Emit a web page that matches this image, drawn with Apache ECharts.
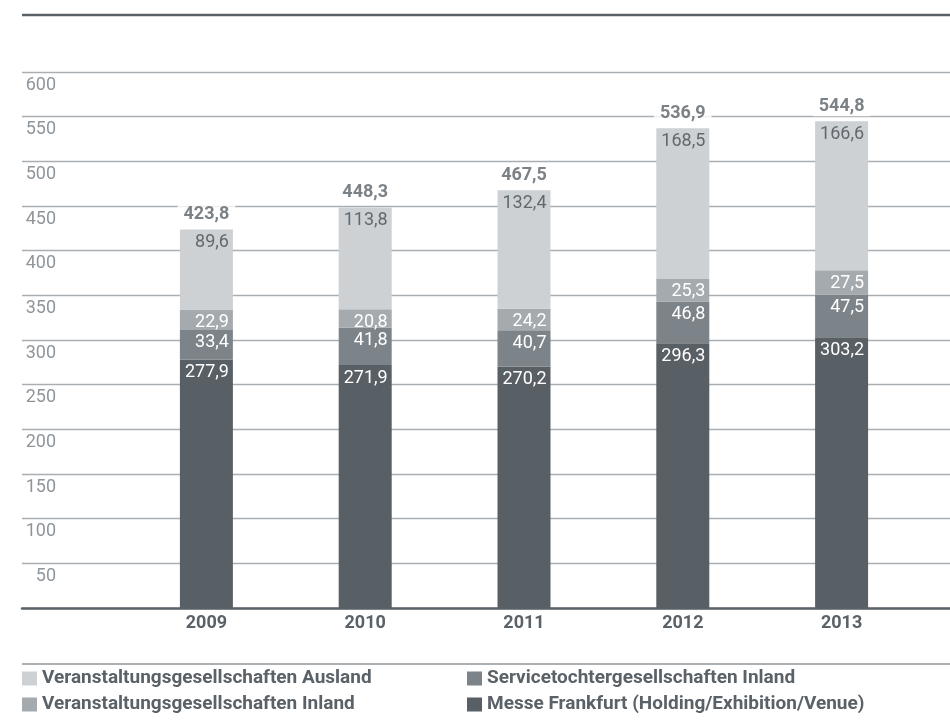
<!DOCTYPE html>
<html>
<head>
<meta charset="utf-8">
<style>
html,body{margin:0;padding:0;background:#fff;}
#chart{width:950px;height:723px;}
</style>
<script src="https://cdn.jsdelivr.net/npm/echarts@6/dist/echarts.min.js"></script>
</head>
<body>
<div id="chart"></div>
<script>
const years = ['2009', '2010', '2011', '2012', '2013'];
const messeFrankfurt = [277.9, 271.9, 270.2, 296.3, 303.2];
const serviceInland = [33.4, 41.8, 40.7, 46.8, 47.5];
const veranstInland = [22.9, 20.8, 24.2, 25.3, 27.5];
const veranstAusland = [89.6, 113.8, 132.4, 168.5, 166.6];
const totals = [423.8, 448.3, 467.5, 536.9, 544.8];
const yTicks = { min: 0, max: 600, interval: 50 };

const NAME_AUS = 'Veranstaltungsgesellschaften Ausland';
const NAME_SVC = 'Servicetochtergesellschaften Inland';
const NAME_INL = 'Veranstaltungsgesellschaften Inland';
const NAME_MF = 'Messe Frankfurt (Holding/Exhibition/Venue)';

const FONT = 'Roboto';
const DARK = '#5a6167';
const fmt = v => String(v).replace('.', ',');

function barSeries(name, data, color, labelColor) {
  return {
    name: name, type: 'bar', stack: 'total', data: data,
    xAxisIndex: 1, yAxisIndex: 1, barWidth: 53,
    itemStyle: { color: color },
    label: {
      show: true, position: 'insideTopRight', distance: 4,
      color: labelColor, fontFamily: FONT, fontSize: 18,
      formatter: p => fmt(p.value)
    }
  };
}

function legendItem(name, left, top) {
  return {
    left: left, top: top, itemWidth: 15, itemHeight: 14,
    icon: 'rect', selectedMode: false, padding: 0,
    textStyle: { color: DARK, fontFamily: FONT, fontWeight: 'bold', fontSize: 19, lineHeight: 14 },
    data: [name]
  };
}

const chart = echarts.init(document.getElementById('chart'), null, { renderer: 'canvas' });
chart.setOption({
  animation: false,
  backgroundColor: '#fff',
  grid: [
    { left: 22, right: 0, top: 72, bottom: 115 },
    { left: 127, right: 29, top: 72, bottom: 115 }
  ],
  xAxis: [
    { type: 'value', gridIndex: 0, min: 0, max: 1, show: true,
      axisLine: { show: true, onZero: false, lineStyle: { color: DARK, width: 2.5 } },
      axisTick: { show: false }, axisLabel: { show: false }, splitLine: { show: false } },
    { type: 'category', gridIndex: 1, data: years,
      axisLine: { show: false }, axisTick: { show: false },
      axisLabel: { color: DARK, fontFamily: FONT, fontWeight: 'bold', fontSize: 18, margin: 6 } }
  ],
  yAxis: [
    { type: 'value', gridIndex: 0, min: yTicks.min, max: yTicks.max, interval: yTicks.interval,
      axisLine: { show: false }, axisTick: { show: false },
      splitLine: { show: true, lineStyle: { color: '#a9aeb2', width: 1.3 } },
      axisLabel: {
        inside: true, align: 'right', verticalAlign: 'top', margin: 34,
        padding: [4, 0, 0, 0],
        color: '#8f969b', fontFamily: FONT, fontSize: 18,
        formatter: v => (v === 0 ? '' : String(v))
      } },
    { type: 'value', gridIndex: 1, min: yTicks.min, max: yTicks.max, interval: yTicks.interval,
      show: false, splitLine: { show: false } }
  ],
  legend: [
    legendItem(NAME_AUS, 22, 669),
    legendItem(NAME_INL, 22, 695),
    legendItem(NAME_SVC, 467, 669),
    legendItem(NAME_MF, 467, 695)
  ],
  graphic: [
    { type: 'line', shape: { x1: 22, y1: 15, x2: 950, y2: 15 },
      style: { stroke: DARK, lineWidth: 2.5 } },
    { type: 'line', shape: { x1: 22, y1: 664, x2: 950, y2: 664 },
      style: { stroke: '#8f969b', lineWidth: 1.5 } }
  ],
  series: [
    barSeries(NAME_MF, messeFrankfurt, '#585f65', '#ffffff'),
    barSeries(NAME_SVC, serviceInland, '#7d8489', '#ffffff'),
    barSeries(NAME_INL, veranstInland, '#a5aaae', '#ffffff'),
    barSeries(NAME_AUS, veranstAusland, '#cdd1d4', '#62696e'),
    {
      name: 'Summe', type: 'scatter', xAxisIndex: 1, yAxisIndex: 1,
      data: totals, symbolSize: 0, z: 5,
      label: {
        show: true, position: 'top', distance: 5,
        color: DARK, fontFamily: FONT, fontWeight: 'bold', fontSize: 18,
        backgroundColor: '#ffffff', padding: [1, 6, 1, 6],
        formatter: p => fmt(p.value)
      }
    }
  ]
});
</script>
</body>
</html>
